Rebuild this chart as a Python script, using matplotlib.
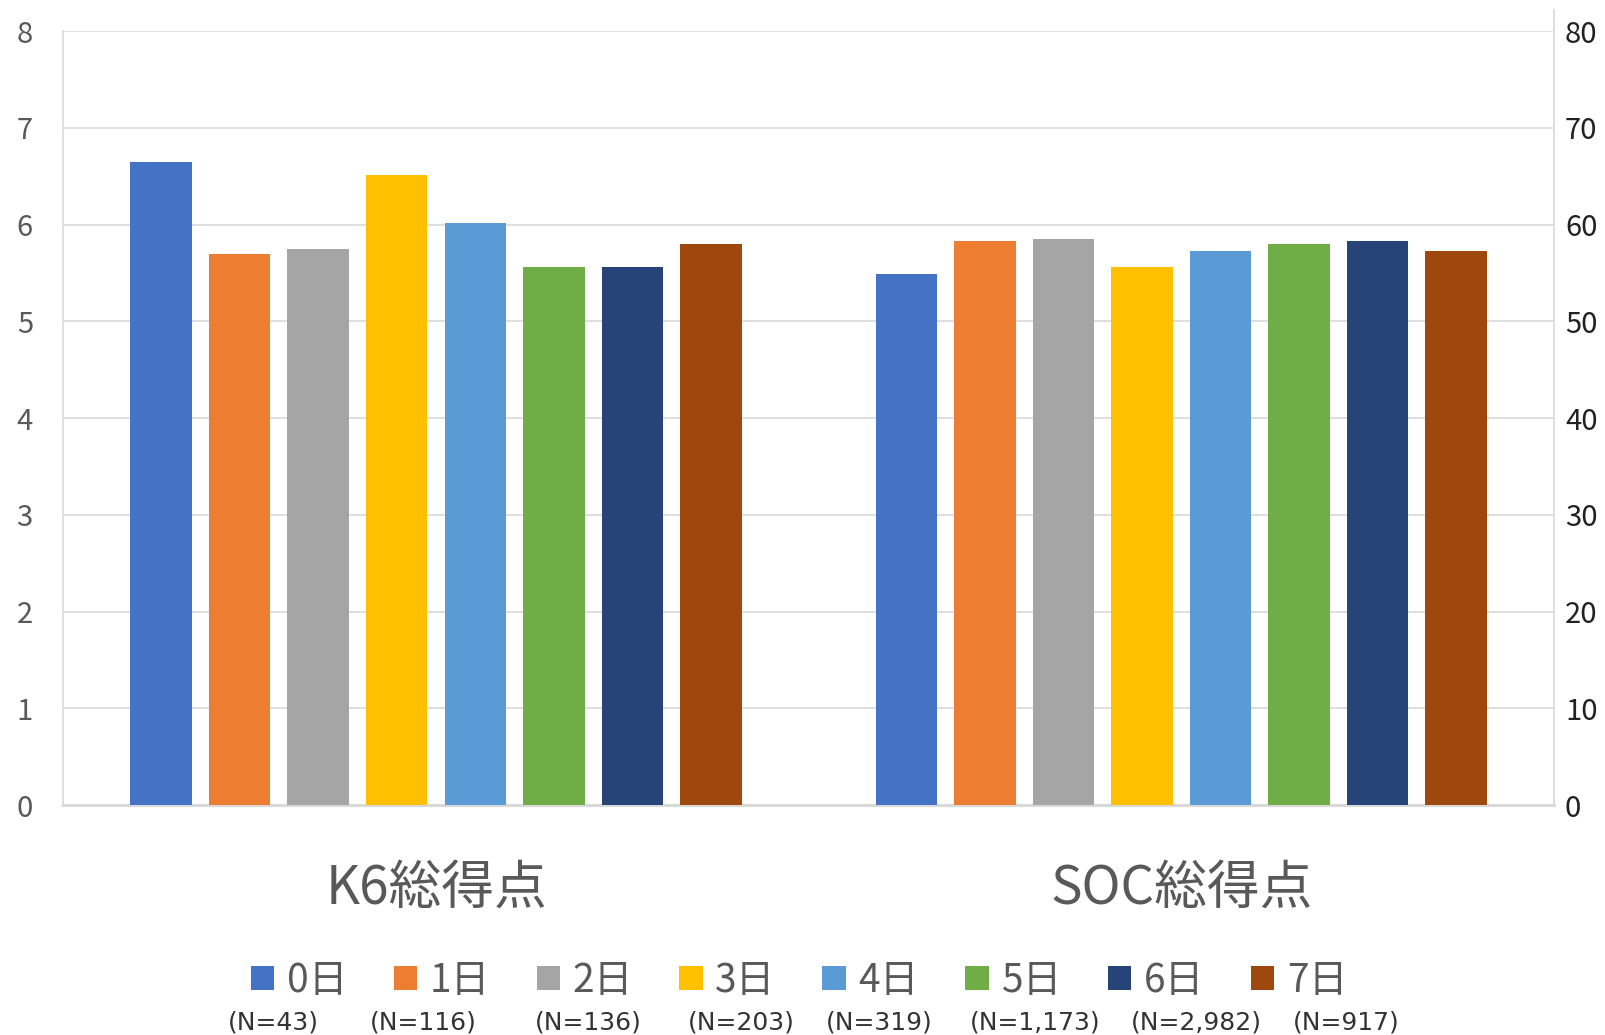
import numpy as np
import matplotlib.pyplot as plt
from matplotlib.patches import Patch

plt.rcParams['font.family'] = ['Noto Sans CJK JP', 'DejaVu Sans']

# data
days = ['0日', '1日', '2日', '3日', '4日', '5日', '6日', '7日']
counts = ['(N=43)', '(N=116)', '(N=136)', '(N=203)', '(N=319)', '(N=1,173)', '(N=2,982)', '(N=917)']
groups = ['K6総得点', 'SOC総得点']
k6 = [6.65, 5.70, 5.75, 6.51, 6.02, 5.56, 5.56, 5.80]
soc = [54.9, 58.3, 58.5, 55.6, 57.3, 58.0, 58.3, 57.3]
colors = ['#4472C4', '#ED7D31', '#A5A5A5', '#FFC000', '#5B9BD5', '#70AD47', '#264478', '#9E480E']

grid_c = '#d9d9d9'
txt_c = '#595959'

fig = plt.figure(figsize=(16.06, 10.35), dpi=100)
ax = fig.add_axes([0.0395, 0.222, 0.928, 0.748])
ax2 = ax.twinx()

pitch = 0.1054
width = 0.0825
offs = (np.arange(len(days)) - 3.5) * pitch

ax.bar(0 + offs, k6, width=width, color=colors, zorder=3)
ax2.bar(1 + offs, soc, width=width, color=colors, zorder=3)

ax.set_xlim(-0.5, 1.5)
ax.set_ylim(0, 8)
ax2.set_ylim(0, 80)
ax.set_yticks(range(0, 9))
ax2.set_yticks(range(0, 81, 10))
ax.yaxis.grid(True, color=grid_c, linewidth=1.2, zorder=0)
ax.set_axisbelow(True)

ax.set_xticks([0, 1])
ax.set_xticklabels(groups, fontsize=38, color=txt_c)
ax.tick_params(axis='x', length=0, pad=40)
ax.tick_params(axis='y', length=0, pad=22, labelsize=21, labelcolor=txt_c)
ax2.tick_params(axis='y', length=0, pad=8, labelsize=21, labelcolor='#222222')

for a in (ax, ax2):
    for s in ('top', 'right', 'left', 'bottom'):
        a.spines[s].set_visible(False)
ax.spines['left'].set_visible(True)
ax.spines['left'].set_color(grid_c)
ax.spines['left'].set_linewidth(1.2)
ax.spines['bottom'].set_visible(True)
ax.spines['bottom'].set_color(grid_c)
ax.spines['bottom'].set_linewidth(2.2)
# right axis line runs a little above the plot area
ax.plot([1, 1], [0, 1.027], transform=ax.transAxes, color=grid_c, linewidth=1.2, clip_on=False)

handles = [Patch(facecolor=c, edgecolor='none') for c in colors]
fig.legend(handles, days, loc='center', bbox_to_anchor=(0.4975, 0.0525), ncol=8,
           frameon=False, fontsize=28, labelcolor=txt_c, handlelength=0.6,
           handleheight=0.6, handletextpad=0.32, columnspacing=1.2)

n_x = [267, 413, 574, 724, 858, 1011, 1168, 1314]
for x, n in zip(n_x, counts):
    fig.text(x * 1.0242 / 1606, 0.0125, n, ha='center', va='center', fontsize=18,
             color='#333333', family='DejaVu Sans')

fig.savefig('out.png', dpi=100)
